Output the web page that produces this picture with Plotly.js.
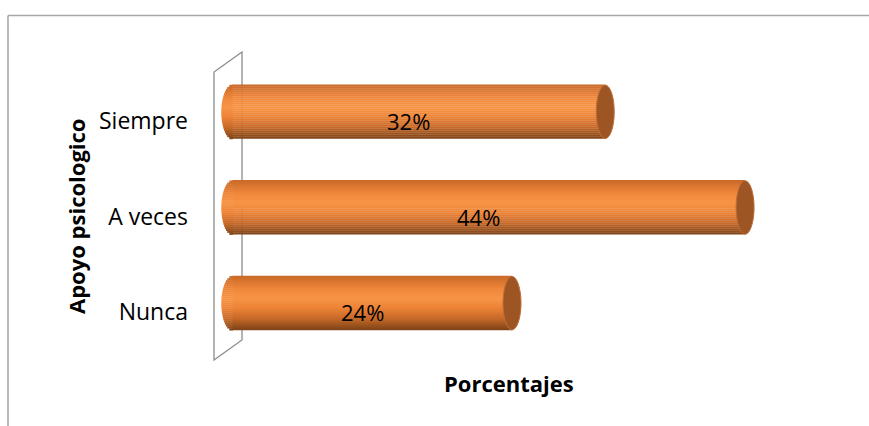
<!DOCTYPE html>
<html>
<head>
<meta charset="utf-8">
<script src="https://cdn.plot.ly/plotly-3.0.1.min.js"></script>
<style>html,body{margin:0;padding:0;background:#fff;}#chart{width:869px;height:426px;}</style>
</head>
<body>
<div id="chart"></div>
<script>
// Data
const categories = ["Nunca", "A veces", "Siempre"];
const values = [24, 44, 32];
const labels = ["24%", "44%", "32%"];
const xTitle = "Porcentajes";
const yTitle = "Apoyo psicologico";

// Style
const FONT = "Open Sans, sans-serif";
const gradStops = [
  [0.00, [200, 104, 40]],
  [0.25, [240, 136, 60]],
  [0.42, [247, 148, 70]],
  [0.60, [236, 130, 54]],
  [0.80, [196, 104, 40]],
  [1.00, [126, 66, 22]]
];
function gradColor(t) {
  for (let i = 1; i < gradStops.length; i++) {
    if (t <= gradStops[i][0]) {
      const a = gradStops[i-1], b = gradStops[i];
      const f = (t - a[0]) / (b[0] - a[0]);
      const c = a[1].map((v, k) => Math.round(v + (b[1][k] - v) * f));
      return `rgb(${c[0]},${c[1]},${c[2]})`;
    }
  }
  const c = gradStops[gradStops.length-1][1];
  return `rgb(${c[0]},${c[1]},${c[2]})`;
}

const W = 869, H = 426;
const xMin = -2, xMax = 50;
const scale = 11.66;                 // px per percent
const zeroPx = 232;
const M = {l: Math.round(zeroPx + xMin * scale), t: 73, b: 66};
M.r = W - M.l - Math.round((xMax - xMin) * scale);
const plotW = W - M.l - M.r, plotH = H - M.t - M.b;
const barW = 0.565;        // thickness in category units
const lift = 0.094;        // bars sit slightly above the label line
const N = 27;
const pos = categories.map((c, i) => i);

const traces = [];
for (let s = 0; s < N; s++) {
  traces.push({
    type: "bar", orientation: "h",
    x: values, y: pos,
    width: barW / N + 0.004,
    offset: lift + barW / 2 - (s + 1) * barW / N,
    marker: {color: gradColor((s + 0.5) / N), line: {width: 0}},
    hoverinfo: "skip", showlegend: false
  });
}

// paper helpers from pixel positions (style only)
const px = p => (p - M.l) / plotW;
const py = p => (H - M.b - p) / plotH;

const shapes = [];
// chart outer border (top & left visible)
shapes.push({type: "line", xref: "paper", yref: "paper", x0: px(8), x1: px(869), y0: py(15.5), y1: py(15.5), line: {color: "#a6a6a6", width: 1.5}});
shapes.push({type: "line", xref: "paper", yref: "paper", x0: px(8), x1: px(8), y0: py(15.5), y1: py(426), line: {color: "#a6a6a6", width: 1.5}});
// 3D wall
shapes.push({type: "path", xref: "paper", yref: "paper", layer: "below",
  path: `M ${px(214)},${py(360)} L ${px(214)},${py(72)} L ${px(242)},${py(52)} L ${px(242)},${py(340)} Z`,
  line: {color: "#8c8c8c", width: 1.3}, fillcolor: "rgba(0,0,0,0)"});

const capL = 11 / scale;   // left cap half width (data units)
const capR = 9 / scale;    // right cap half width
values.forEach((v, i) => {
  const yc = pos[i] + lift;
  // rounded, shaded left end built from thin strips
  for (let s = 0; s < N; s++) {
    const tm = (s + 0.5) / N;
    const hw = capL * Math.sqrt(Math.max(0, 1 - Math.pow(2 * tm - 1, 2)));
    const yTop = yc + barW / 2 - s * barW / N;
    shapes.push({type: "rect", xref: "x", yref: "y", layer: "below",
      x0: -hw, x1: 0.05, y0: yTop - barW / N - 0.004, y1: yTop,
      fillcolor: gradColor(tm), line: {width: 0}});
  }
  shapes.push({type: "circle", xref: "x", yref: "y", layer: "above",
    x0: v - capR, x1: v + capR, y0: yc - barW / 2 + 0.003, y1: yc + barW / 2 - 0.003,
    fillcolor: "rgb(158,85,36)", line: {color: "rgb(190,110,55)", width: 1}});
});

const annotations = values.map((v, i) => ({
  x: v / 2, y: pos[i], xref: "x", yref: "y", text: labels[i], showarrow: false,
  xanchor: "center", yanchor: "middle",
  xshift: -10, font: {family: FONT, size: 22, color: "#000"}
}));
annotations.push({xref: "paper", yref: "paper", x: px(509), y: py(383), text: "<b>" + xTitle + "</b>",
  xanchor: "center", yanchor: "middle",
  showarrow: false, font: {family: FONT, size: 22, color: "#000"}});
annotations.push({xref: "paper", yref: "paper", x: px(76), y: py(216), text: "<b>" + yTitle + "</b>",
  xanchor: "center", yanchor: "middle",
  showarrow: false, textangle: -90, font: {family: FONT, size: 22, color: "#000"}});

const layout = {
  width: W, height: H,
  margin: M,
  paper_bgcolor: "#fff", plot_bgcolor: "#fff",
  barmode: "overlay",
  showlegend: false,
  xaxis: {range: [xMin, xMax], showgrid: false, zeroline: false, showticklabels: false, ticks: "", showline: false, fixedrange: true},
  yaxis: {range: [-0.5, 2.5], tickmode: "array", tickvals: pos, ticktext: categories,
    showgrid: false, zeroline: false, showline: false, ticks: "",
    ticklabelstandoff: 20,
    tickfont: {family: FONT, size: 23, color: "#000"}, fixedrange: true},
  shapes: shapes,
  annotations: annotations
};

Plotly.newPlot("chart", traces, layout, {displayModeBar: false, staticPlot: true});
</script>
</body>
</html>
